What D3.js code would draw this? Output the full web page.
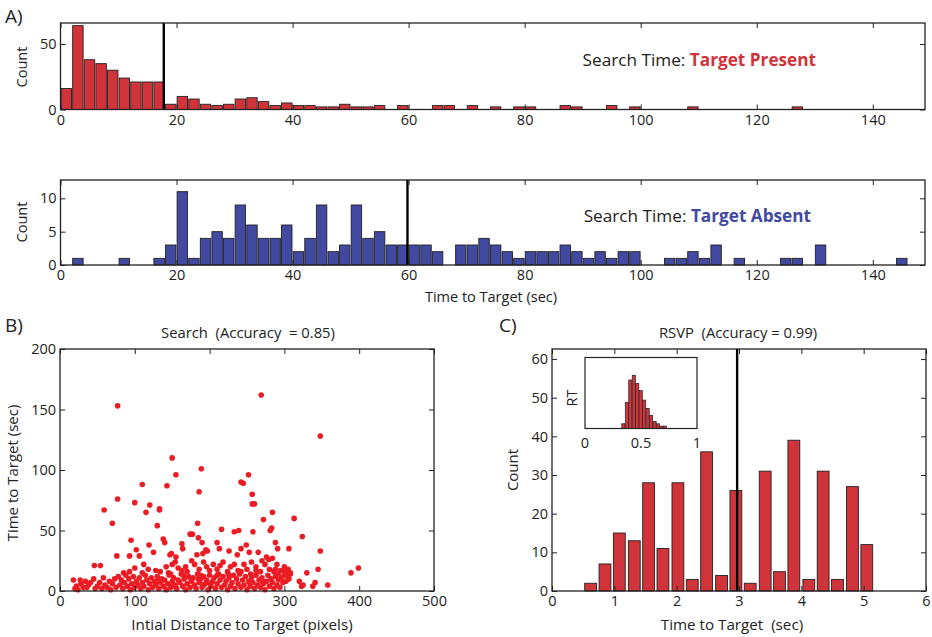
<!DOCTYPE html>
<html>
<head>
<meta charset="utf-8">
<script src="https://cdn.jsdelivr.net/npm/d3@7"></script>
<style>
  body { margin: 0; background: #fff; }
  svg text { font-family: "Open Sans", sans-serif; fill: #222; }
</style>
</head>
<body>
<svg id="fig" width="932" height="637"></svg>
<script>
"use strict";

// --- A) search time histograms, bins of 2 s
const presentStart  = [0,2,4,6,8,10,12,14,16,18,20,22,24,26,28,30,32,34,36,38,40,42,44,46,48,50,52,54,58,64,66,70,74,78,80,86,88,94,98,108,126];
const presentCounts = [16,64,38,35,30,24,21,21,21,4,10,8,4,3,4,8,9,6,3,5,3,3,2,2,4,2,2,3,3,3,3,3,2,2,2,3,2,3,2,2,2];
const presentMedian = 17.8;

const absentStart  = [2,10,16,18,20,22,24,26,28,30,32,34,36,38,40,42,44,46,48,50,52,54,56,58,60,62,64,68,70,72,74,76,78,80,82,84,86,88,90,92,94,96,98,104,106,108,110,112,116,124,126,130,144];
const absentCounts = [1,1,1,3,11,1,4,5,4,9,6,4,4,6,2,4,9,2,3,9,4,5,3,3,3,3,2,3,3,4,3,2,1,2,2,2,3,2,1,2,1,2,2,1,1,2,1,3,1,1,1,3,1];
const absentMedian = 59.8;

const timeTicks = [0,20,40,60,80,100,120,140];

// --- B) search scatter: [initial distance (px), time to target (s)]
const searchPoints = [
  [77,153],[269,162],[348,128],[150,110],[189,101],[155,96],[252,96],[143,87],[110,88],[242,90],[245,89],
  [186,82],[257,80],[77,76],[257,72],[260,72],[100,73],[120,71],[59,67],[133,68],[133,67],[115,65],[284,65],
  [272,59],[313,60],[70,56],[184,56],[130,54],[216,51],[281,50],[283,52],[233,49],[239,50],[258,49],[324,45],
  [95,42],[138,43],[140,40],[174,47],[177,47],[185,44],[190,40],[163,39],[164,35],[210,40],[213,35],[288,40],
  [291,35],[306,35],[348,33],[102,34],[93,29],[76,29],[106,29],[119,38],[125,32],[149,31],[191,31],[195,34],
  [242,35],[249,38],[253,32],[265,32],[276,28],[279,26],[284,27],[197,33],[183,30],[147,30],[155,28],[226,33],[237,30],
  [46,21],[54,21],[93,16],[100,19],[112,22],[118,18],[128,17],[134,16],[142,20],[150,22],[154,24],[158,19],
  [163,17],[170,16],[176,25],[180,22],[186,18],[192,24],[196,20],[200,17],[205,22],[210,18],[218,24],[224,16],
  [228,20],[233,22],[238,17],[246,22],[250,18],[256,24],[262,20],[268,16],[274,22],[280,18],[286,16],[290,22],
  [295,17],[300,16],[305,18],[308,15],[330,15],[345,18],[389,15],[399,19],[85,15],[110,15],[145,15],[168,20],
  [214,21],[242,16],[288,18],[300,20],[303,14],[292,14],[270,25],[262,17],
  [18,9],[20,2],[22,4],[24,1],[27,9],[28,6],[31,3],[34,8],[36,3],[38,5],[41,7],[45,10],[47,2],[50,4],[53,7],
  [56,2],[58,11],[60,5],[63,3],[66,8],[68,1],[70,6],[73,10],[75,3],[78,12],[80,5],[82,9],[84,2],[86,7],[88,13],
  [90,4],[92,10],[94,1],[96,6],[98,12],[100,3],[102,8],[104,5],[106,11],[108,2],[110,7],[112,4],[114,13],[116,9],
  [118,1],[120,6],[122,11],[124,3],[126,8],[128,5],[130,12],[132,2],[134,7],[136,10],[138,4],[140,9],[142,1],
  [144,6],[146,13],[148,3],[150,8],[152,11],[154,5],[156,2],[158,9],[160,7],[162,14],[164,4],[166,10],[168,1],
  [170,6],[172,12],[174,3],[176,8],[178,11],[180,5],[182,2],[184,14],[186,7],[188,10],[190,3],[192,12],[194,6],
  [196,9],[198,1],[200,13],[202,4],[204,8],[206,11],[208,2],[210,6],[212,14],[214,9],[216,3],[218,12],[220,5],
  [222,8],[224,1],[226,11],[228,4],[230,7],[232,13],[234,2],[236,10],[238,6],[240,14],[242,3],[244,9],[246,5],
  [248,12],[250,1],[252,8],[254,4],[256,11],[258,7],[260,2],[262,13],[264,5],[266,9],[268,3],[270,11],[272,6],
  [274,1],[276,8],[278,13],[280,4],[282,10],[284,7],[286,2],[288,12],[290,5],[292,9],[294,3],[296,11],[298,7],
  [300,13],[302,8],[304,12],[306,10],[308,14],[320,8],[323,4],[325,5],[338,4],[341,7],[358,5],[148,14],[188,13],
  [210,13],[165,13],[130,8],[175,10],[192,5],[150,4],[200,6],[255,14],[270,8],[225,14],[185,10]
];

// --- C) RSVP histogram and RT inset
const rsvpCenters = [0.62,0.85,1.08,1.32,1.55,1.78,2.02,2.25,2.48,2.72,2.95,3.18,3.42,3.65,3.88,4.12,4.35,4.58,4.82,5.05];
const rsvpCounts  = [2,7,15,13,28,11,28,3,36,4,26,2,31,5,39,3,31,3,27,12];
const rsvpMedian  = 2.97;

const rtStart  = [0.327,0.358,0.389,0.420,0.451,0.482,0.513,0.544,0.575,0.606,0.637,0.668,0.699];
const rtCounts = [4,22,41,45,38,32,24,17,11,6,4,2,2];
const rtWidth  = 0.031;

const red = "#d1333a", blue = "#4249a0", dotRed = "#ec1c24", ink = "#222";

const svg = d3.select("#fig");

// box with inward ticks on all four sides, matlab style
function drawFrame(x, y, xTicks, yTicks) {
    const g = svg.append("g").attr("class", "frame");
    const [x0, x1] = x.range(), [y0, y1] = y.range();
    g.append("g").attr("transform", `translate(0,${y0})`)
        .call(d3.axisBottom(x).tickValues(xTicks).tickSize(-5).tickPadding(5).tickFormat(d3.format("")));
    g.append("g").attr("transform", `translate(${x0},0)`)
        .call(d3.axisLeft(y).tickValues(yTicks).tickSize(-5).tickPadding(4).tickFormat(d3.format("")));
    g.append("g").attr("transform", `translate(0,${y1})`)
        .call(d3.axisTop(x).tickValues(xTicks).tickSize(-5).tickFormat(""));
    g.append("g").attr("transform", `translate(${x1},0)`)
        .call(d3.axisRight(y).tickValues(yTicks).tickSize(-5).tickFormat(""));
    g.selectAll(".domain").remove();
    g.selectAll(".tick line").attr("stroke", ink).attr("stroke-width", 1);
    g.selectAll(".tick text").attr("font-size", 14.5).attr("fill", ink);
    g.append("rect")
        .attr("x", x0).attr("y", y1)
        .attr("width", x1 - x0).attr("height", y0 - y1)
        .attr("fill", "none").attr("stroke", ink).attr("stroke-width", 1.3);
    return g;
}

function histBars(x, y, starts, counts, width, fill, sw) {
    svg.append("g").selectAll("rect")
        .data(starts.map((s, i) => ({ s, c: counts[i] })))
        .enter().append("rect")
            .attr("x", d => x(d.s + width * 0.05))
            .attr("width", d => x(d.s + width * 0.95) - x(d.s + width * 0.05))
            .attr("y", d => y(d.c))
            .attr("height", d => y(0) - y(d.c))
            .attr("fill", fill)
            .attr("stroke", ink)
            .attr("stroke-width", sw || 0.9);
}

function vline(x, y, v) {
    svg.append("line")
        .attr("x1", x(v)).attr("x2", x(v))
        .attr("y1", y.range()[0]).attr("y2", y.range()[1])
        .attr("stroke", "#000").attr("stroke-width", 2.4);
}

function label(txt, x, y, size, rotate, anchor) {
    const t = svg.append("text")
        .attr("font-size", size)
        .attr("text-anchor", anchor || "middle")
        .text(txt);
    if (rotate) t.attr("transform", `translate(${x},${y}) rotate(-90)`);
    else t.attr("x", x).attr("y", y);
    return t;
}

// ---------- A) top: target present
const xA = d3.scaleLinear().domain([0, 149]).range([60.5, 925]);
const yTop = d3.scaleLinear().domain([0, 66]).range([109.5, 23]);
histBars(xA, yTop, presentStart, presentCounts, 2, red);
vline(xA, yTop, presentMedian);
drawFrame(xA, yTop, timeTicks, [0, 50]);
label("Count", 27, 67, 14.5, true);

const tp = svg.append("text").attr("x", 816).attr("y", 66).attr("text-anchor", "end").attr("font-size", 17.2);
tp.append("tspan").text("Search Time: ");
tp.append("tspan").attr("font-weight", "bold").style("fill", red).text("Target Present");

// ---------- A) bottom: target absent
const yBot = d3.scaleLinear().domain([0, 12.75]).range([265, 180]);
histBars(xA, yBot, absentStart, absentCounts, 2, blue);
vline(xA, yBot, absentMedian);
drawFrame(xA, yBot, timeTicks, [0, 5, 10]);
label("Count", 27, 222, 14.5, true);
label("Time to Target (sec)", 491, 302, 14.5);

const ta = svg.append("text").attr("x", 811).attr("y", 222).attr("text-anchor", "end").attr("font-size", 17.2);
ta.append("tspan").text("Search Time: ");
ta.append("tspan").attr("font-weight", "bold").style("fill", blue).text("Target Absent");

label("A)", 5, 23, 19, false, "start");

// ---------- B) scatter
const xB = d3.scaleLinear().domain([0, 500]).range([60, 434]);
const yB = d3.scaleLinear().domain([0, 200]).range([591, 349]);
svg.append("g").selectAll("circle")
    .data(searchPoints)
    .enter().append("circle")
        .attr("cx", d => xB(d[0]))
        .attr("cy", d => yB(d[1]))
        .attr("r", 2.8)
        .attr("fill", dotRed);
drawFrame(xB, yB, [0, 100, 200, 300, 400, 500], [0, 50, 100, 150, 200]);
label("Search\u00a0 (Accuracy\u00a0 = 0.85)", 248, 338, 14.8);
label("Intial Distance to Target (pixels)", 242, 630, 15.2);
label("Time to Target (sec)", 18, 473, 15, true);
label("B)", 5, 332, 19, false, "start");

// ---------- C) RSVP histogram
const xC = d3.scaleLinear().domain([0, 6]).range([552, 926]);
const yC = d3.scaleLinear().domain([0, 62.6]).range([591, 349]);
const barW = 0.19;
svg.append("g").selectAll("rect")
    .data(rsvpCenters.map((c, i) => ({ c, n: rsvpCounts[i] })))
    .enter().append("rect")
        .attr("x", d => xC(d.c - barW / 2))
        .attr("width", xC(barW) - xC(0))
        .attr("y", d => yC(d.n))
        .attr("height", d => yC(0) - yC(d.n))
        .attr("fill", red)
        .attr("stroke", ink)
        .attr("stroke-width", 0.9);
vline(xC, yC, rsvpMedian);
drawFrame(xC, yC, [0, 1, 2, 3, 4, 5, 6], [0, 10, 20, 30, 40, 50, 60]);
label("RSVP\u00a0 (Accuracy = 0.99)", 738, 338, 14.8);
label("Time to Target\u00a0 (sec)", 732, 630, 15.2);
label("Count", 518, 470, 15, true);
label("C)", 499, 332, 19, false, "start");

// inset: RT distribution
const xIn = d3.scaleLinear().domain([0, 1]).range([585, 697]);
const yIn = d3.scaleLinear().domain([0, 60]).range([428.5, 357.5]);
svg.append("rect")
    .attr("x", 585).attr("y", 357.5).attr("width", 112).attr("height", 71)
    .attr("fill", "#fff");
histBars(xIn, yIn, rtStart, rtCounts, rtWidth, red, 0.7);
svg.append("rect")
    .attr("x", xIn(0)).attr("y", yIn(60))
    .attr("width", xIn(1) - xIn(0)).attr("height", yIn(0) - yIn(60))
    .attr("fill", "none").attr("stroke", ink).attr("stroke-width", 1.2);
svg.append("g").selectAll("text")
    .data([0, 0.5, 1])
    .enter().append("text")
        .attr("x", d => xIn(d))
        .attr("y", 448)
        .attr("text-anchor", "middle")
        .attr("font-size", 14.5)
        .text(d => d3.format("")(d));
label("RT", 577, 398, 14.5, true);
</script>
</body>
</html>
